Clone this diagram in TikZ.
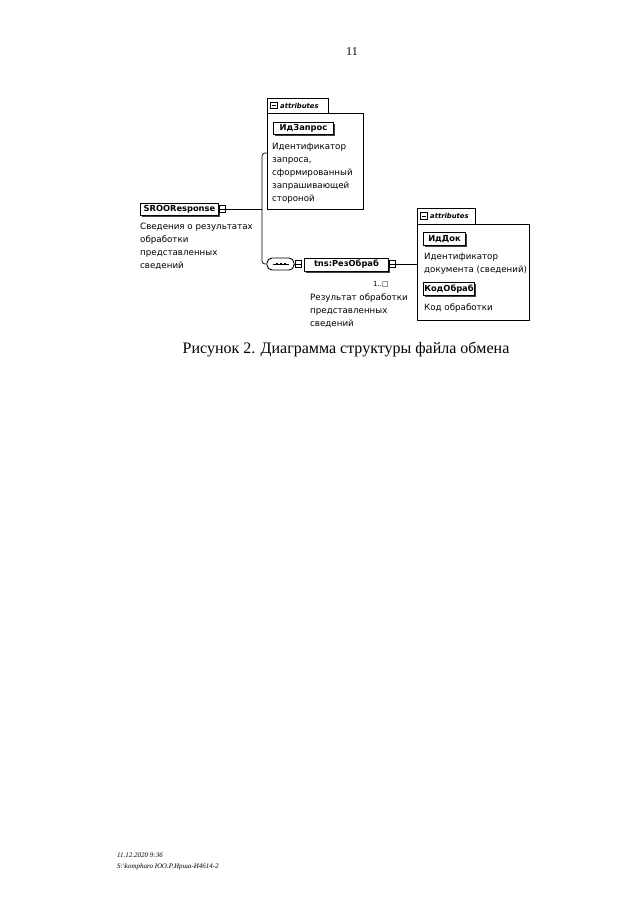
\documentclass[tikz,border=0pt]{standalone}
\usepackage{fontspec}
\setmainfont{Liberation Serif}
\newfontfamily\djv{DejaVu Sans}
\usetikzlibrary{shadows}
\begin{document}
\begin{tikzpicture}[x=1pt,y=-1pt,
  elem/.style={draw, line width=0.9pt, fill=white, font=\djv\bfseries\fontsize{8.3}{10}\selectfont, inner sep=0pt, anchor=north west, drop shadow={shadow xshift=1.6pt, shadow yshift=-1.6pt, fill=black!75, opacity=1}},
  desc/.style={font=\djv\fontsize{8.7}{13}\selectfont, align=left, inner sep=0pt, anchor=north west},
  abox/.style={draw, line width=0.6pt, inner sep=0pt, anchor=north west},
  tabtxt/.style={font=\djv\bfseries\itshape\fontsize{6.8}{7}\selectfont, inner sep=0pt, anchor=west},
  mbox/.style={draw, line width=0.6pt, fill=white, minimum size=6.5pt, inner sep=0pt, path picture={\draw[line width=0.6pt] ([xshift=1.2pt]path picture bounding box.west) -- ([xshift=-1.2pt]path picture bounding box.east);}},
  conn/.style={line width=0.7pt},
]
\useasboundingbox (0,0) rectangle (640,905);
\fill[white] (0,0) rectangle (640,905);

% page number
\node[font=\fontsize{12}{14}\selectfont] (pg) at (352,52) {11};

% root element
\node[elem, minimum width=78pt, minimum height=12pt] (sroo) at (140,203) {SROOResponse};
\node[mbox] (sm) at (222.5,209) {};
\node[desc] (sdesc) at (140,223) {Сведения о результатах\\обработки\\представленных\\сведений};

% attributes box 1
\node[abox, minimum width=96pt, minimum height=96pt] (ab1) at (267,113) {};
\node[abox, minimum width=61pt, minimum height=15pt] (tab1) at (267,98) {};
\node[mbox] (tm1) at (274,105.5) {};
\node[tabtxt] (tt1) at (280,105.5) {attributes};
\node[elem, minimum width=60pt, minimum height=12pt] (idz) at (273,122) {ИдЗапрос};
\node[desc] (idzd) at (272,143) {Идентификатор\\запроса,\\сформированный\\запрашивающей\\стороной};

% connectors from root
\coordinate (jt) at (262,153);
\coordinate (jb) at (262,264);
\draw[conn] (sm.east) -- (sm.east -| jt);
\draw[conn, rounded corners=3pt] (ab1.west |- jt) -- (jt) -- (jb) -- (267,264);

% sequence compositor
\node[draw, line width=0.9pt, fill=white, rounded corners=5pt, minimum width=27pt, minimum height=12pt, inner sep=0pt] (seq) at (280.5,264) {};
\draw[line width=0.6pt] ([xshift=-8pt]seq.center) -- ([xshift=8pt]seq.center);
\foreach \dx in {-4,0,4} \fill ([xshift=\dx pt]seq.center) +(-1,-1) rectangle +(1,1);
\node[mbox] (sqm) at (298.5,264) {};
\draw[conn] (seq.east) -- (sqm.west);

% child element
\node[elem, minimum width=84pt, minimum height=13pt] (rez) at (304,257.5) {tns:РезОбраб};
\node[mbox] (rm) at (392.5,264) {};
\node[font=\djv\fontsize{7}{8}\selectfont, inner sep=0pt] (mult) at (381,284) {1..□};
\node[desc] (rdesc) at (310,294) {Результат обработки\\представленных\\сведений};

% attributes box 2
\node[abox, minimum width=112pt, minimum height=96pt] (ab2) at (417,224) {};
\node[abox, minimum width=58pt, minimum height=16pt] (tab2) at (417,208) {};
\node[mbox] (tm2) at (424,216) {};
\node[tabtxt] (tt2) at (430,216) {attributes};
\draw[conn] (rm.east) -- (ab2.west |- rm.east);

\node[elem, minimum width=42pt, minimum height=13pt] (iddok) at (423,232) {ИдДок};
\node[desc] (iddokd) at (424,253) {Идентификатор\\документа (сведений)};
\node[elem, minimum width=51pt, minimum height=13pt] (kod) at (423,282) {КодОбраб};
\node[desc] (kodd) at (424,304) {Код обработки};

% caption
\node[font=\fontsize{16}{18}\selectfont] (cap) at (346,349) {Рисунок 2. Диаграмма структуры файла обмена};

% footer
\node[font=\itshape\fontsize{7}{11}\selectfont, align=left, anchor=north west, inner sep=0pt] (ft) at (117,853) {11.12.2020 9:36\\S:\textbackslash kompharo ЮО.Р.Ирша-И4614-2};
\end{tikzpicture}
\end{document}
